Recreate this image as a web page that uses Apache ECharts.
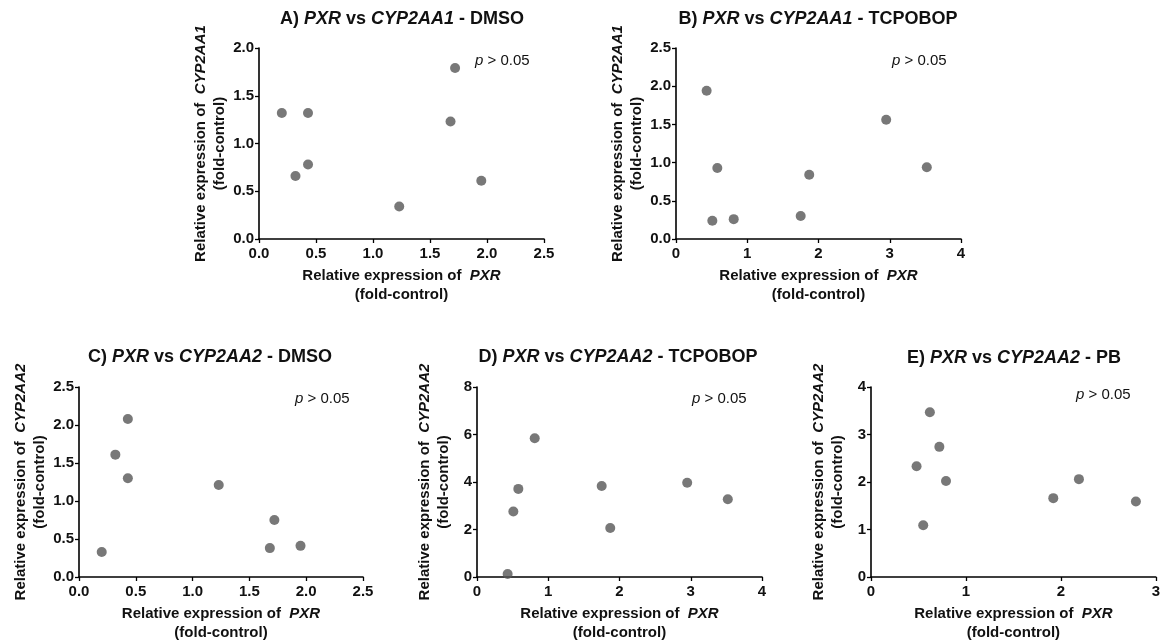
<!DOCTYPE html>
<html>
<head>
<meta charset="utf-8">
<script src="https://cdn.jsdelivr.net/npm/echarts@6/dist/echarts.min.js"></script>
<style>html,body{margin:0;padding:0;background:#fff}#c{width:1163px;height:643px}</style>
</head>
<body>
<div id="c"></div>
<script>
// ---- data ----
const pxrDMSO   = [0.20, 0.32, 0.43, 0.43, 1.23, 1.68, 1.72, 1.95];
const cyp1DMSO  = [1.32, 0.66, 1.32, 0.78, 0.34, 1.23, 1.79, 0.61];
const cyp2DMSO  = [0.33, 1.61, 2.08, 1.30, 1.21, 0.38, 0.75, 0.41];
const pxrTCPO   = [0.43, 0.51, 0.58, 0.81, 1.75, 1.87, 2.95, 3.52];
const cyp1TCPO  = [1.94, 0.24, 0.93, 0.26, 0.30, 0.84, 1.56, 0.94];
const cyp2TCPO  = [0.13, 2.76, 3.71, 5.84, 3.83, 2.06, 3.97, 3.27];
const pxrPB     = [0.48, 0.55, 0.62, 0.72, 0.79, 1.92, 2.19, 2.79];
const cyp2PB    = [2.33, 1.09, 3.47, 2.74, 2.02, 1.66, 2.06, 1.59];

const panelLetters = ['A)', 'B)', 'C)', 'D)', 'E)'];
const panelGenes   = ['CYP2AA1', 'CYP2AA1', 'CYP2AA2', 'CYP2AA2', 'CYP2AA2'];
const panelTreat   = ['DMSO', 'TCPOBOP', 'DMSO', 'TCPOBOP', 'PB'];
const xRanges = [[0, 2.5, 0.5], [0, 4, 1], [0, 2.5, 0.5], [0, 4, 1], [0, 3, 1]];
const yRanges = [[0, 2, 0.5], [0, 2.5, 0.5], [0, 2.5, 0.5], [0, 8, 2], [0, 4, 1]];
const xData = [pxrDMSO, pxrTCPO, pxrDMSO, pxrTCPO, pxrPB];
const yData = [cyp1DMSO, cyp1TCPO, cyp2DMSO, cyp2TCPO, cyp2PB];

// ---- layout ----
const FONT = 'Liberation Sans, Arial, sans-serif';
const grids = [
  {left: 259, top: 48,  width: 285, height: 191},
  {left: 676, top: 48,  width: 285, height: 191},
  {left: 79,  top: 387, width: 284, height: 190},
  {left: 477, top: 387, width: 285, height: 190},
  {left: 871, top: 387, width: 285, height: 190}
];
const titlePos = [[402, 21], [818, 21], [210, 359], [618, 359], [1014, 360]];
const pPos = [[475, 62], [892, 62], [295, 400], [692, 400], [1076, 396]];

const chart = echarts.init(document.getElementById('c'), null, {renderer: 'canvas'});

const axisCommon = (r, dec, margin) => ({
  type: 'value', min: r[0], max: r[1], interval: r[2],
  axisLine: {show: true, onZero: false, lineStyle: {color: '#000', width: 1.6}},
  axisTick: {show: true, length: 4, lineStyle: {color: '#000', width: 1.3}},
  splitLine: {show: false},
  axisLabel: {
    color: '#111', fontFamily: FONT, fontWeight: 'bold', fontSize: 15, margin: margin,
    formatter: v => dec ? v.toFixed(1) : String(v)
  }
});

const nameStyle = () => ({
  fontFamily: FONT, fontWeight: 'bold', fontSize: 15, color: '#111', lineHeight: 19,
  rich: {
    b: {fontFamily: FONT, fontWeight: 'bold', fontSize: 15, color: '#111', lineHeight: 19},
    i: {fontFamily: FONT, fontWeight: 'bold', fontStyle: 'italic', fontSize: 15, color: '#111', lineHeight: 19}
  }
});

const xAxes = [], yAxes = [], series = [], titles = [], graphics = [];
for (let k = 0; k < 5; k++) {
  const xr = xRanges[k], yr = yRanges[k];
  xAxes.push(Object.assign(axisCommon(xr, xr[2] < 1, 7), {
    gridIndex: k,
    name: '{b|Relative expression of  }{i|PXR}\n{b|(fold-control)}',
    nameLocation: 'middle', nameGap: 27,
    nameTextStyle: nameStyle()
  }));
  yAxes.push(Object.assign(axisCommon(yr, yr[2] < 1, 5), {
    gridIndex: k,
    name: '{b|Relative expression of  }{i|' + panelGenes[k] + '}\n{b|(fold-control)}',
    nameLocation: 'middle', nameGap: 24, nameRotate: 90,
    nameTextStyle: nameStyle()
  }));
  series.push({
    type: 'scatter', xAxisIndex: k, yAxisIndex: k,
    symbol: 'circle', symbolSize: 10,
    itemStyle: {color: '#565656'},
    data: xData[k].map((x, i) => [x, yData[k][i]])
  });
  titles.push({
    text: '{b|' + panelLetters[k] + ' }{i|PXR}{b| vs }{i|' + panelGenes[k] + '}{b| - ' + panelTreat[k] + '}',
    left: titlePos[k][0], top: titlePos[k][1] - 11, textAlign: 'center',
    padding: 0,
    textStyle: {
      rich: {
        b: {fontFamily: FONT, fontWeight: 'bold', fontSize: 18, color: '#111'},
        i: {fontFamily: FONT, fontWeight: 'bold', fontStyle: 'italic', fontSize: 18, color: '#111'}
      }
    }
  });
  graphics.push({
    type: 'text', left: pPos[k][0], top: pPos[k][1] - 9,
    style: {
      text: '{i|p}{n| > 0.05}',
      rich: {
        i: {fontFamily: FONT, fontStyle: 'italic', fontSize: 15, fill: '#111'},
        n: {fontFamily: FONT, fontSize: 15, fill: '#111'}
      }
    }
  });
}

chart.setOption({
  backgroundColor: '#fff',
  animation: false,
  title: titles,
  grid: grids,
  xAxis: xAxes,
  yAxis: yAxes,
  series: series,
  graphic: graphics
});
</script>
</body>
</html>
